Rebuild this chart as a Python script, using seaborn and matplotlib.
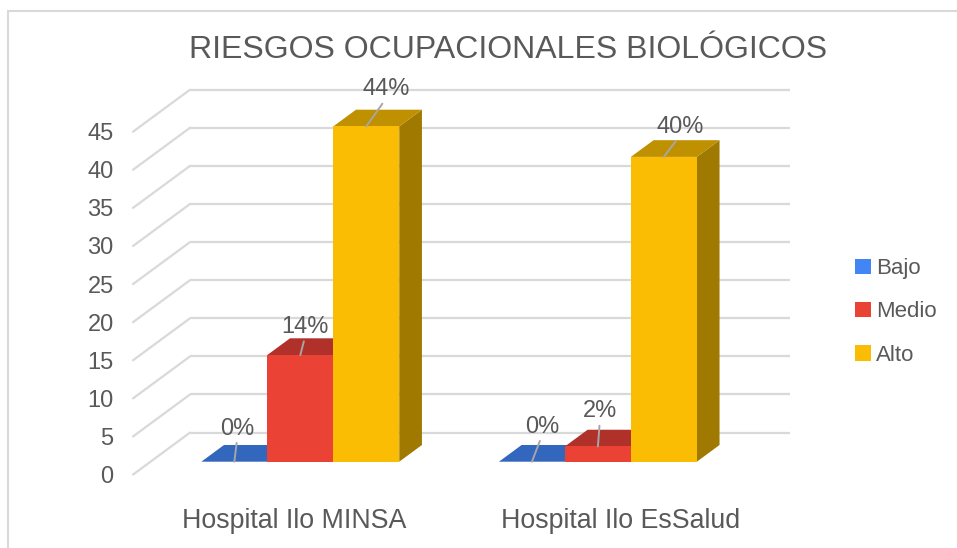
import numpy as np
import pandas as pd
import seaborn as sns
import matplotlib.pyplot as plt
from matplotlib.patches import Polygon
from matplotlib.lines import Line2D

# ---------------- data ----------------
hospitals = ["Hospital Ilo MINSA", "Hospital Ilo EsSalud"]
levels = ["Bajo", "Medio", "Alto"]
bajo = [0, 0]
medio = [14, 2]
alto = [44, 40]
y_ticks = [0, 5, 10, 15, 20, 25, 30, 35, 40, 45]
title = "RIESGOS OCUPACIONALES BIOLÓGICOS"

# ---------------- style ----------------
front_colors = {"Bajo": "#4285F4", "Medio": "#EA4335", "Alto": "#FBBC04"}
top_colors = {"Bajo": "#3366BD", "Medio": "#B0312A", "Alto": "#BF9000"}
side_colors = {"Bajo": "#2A55A0", "Medio": "#952820", "Alto": "#A07900"}
text_color = "#595959"
grid_color = "#D9D9D9"

sns.set_style("white")
plt.rcParams["font.family"] = ["Liberation Sans", "DejaVu Sans"]

W, H = 957, 548
fig = plt.figure(figsize=(W / 100, H / 100), dpi=100)

# pixel mapping of the bars' front plane
PX_X0, PX_PER_CAT = 300.3, 297.6     # pixel x of category 0, pixels per category
PX_Y0, PX_PER_UNIT = 461.7, 7.62     # pixel y (from top) of value 0, pixels per unit
L, R, T, B = 122, 800, 60, 490        # axes box in pixels
ax = fig.add_axes([L / W, 1 - B / H, (R - L) / W, (B - T) / H])
XLIM = ((L - PX_X0) / PX_PER_CAT, (R - PX_X0) / PX_PER_CAT)
YLIM = ((PX_Y0 - B) / PX_PER_UNIT, (PX_Y0 - T) / PX_PER_UNIT)

# oblique depth: full floor depth vector (pixels: +57 right, 42 up)
DX = 57 / PX_PER_CAT
DY = 42 / PX_PER_UNIT
D_FRONT, D_BACK = 0.307, 0.705        # bar front/back depth fractions
wall_dx, wall_dy = (1 - D_FRONT) * DX, (1 - D_FRONT) * DY
front_dx, front_dy = -D_FRONT * DX, -D_FRONT * DY
bar_dx, bar_dy = (D_BACK - D_FRONT) * DX, (D_BACK - D_FRONT) * DY
wall_x0 = (190 - PX_X0) / PX_PER_CAT
wall_x1 = (790 - PX_X0) / PX_PER_CAT

# ---------------- bars ----------------
df = pd.DataFrame({
    "hospital": hospitals * 3,
    "nivel": ["Bajo"] * 2 + ["Medio"] * 2 + ["Alto"] * 2,
    "valor": bajo + medio + alto,
})
sns.barplot(data=df, x="hospital", y="valor", hue="nivel", order=hospitals,
            hue_order=levels, palette=front_colors, width=0.665, saturation=1,
            linewidth=0, ax=ax)

# back wall and side wall gridlines
for v in y_ticks:
    ax.plot([wall_x0, wall_x1], [v + wall_dy, v + wall_dy], color=grid_color,
            lw=1.6, zorder=1, clip_on=False, solid_capstyle="butt")
    ax.plot([wall_x0 - DX, wall_x0], [v + wall_dy - DY, v + wall_dy],
            color=grid_color, lw=1.6, zorder=1, clip_on=False)

# 3D faces on top of each seaborn bar
label_offsets = {  # pixel offsets of label centres from the bar's front-top centre
    ("Hospital Ilo MINSA", "Bajo"): (3, 33), ("Hospital Ilo MINSA", "Medio"): (5, 28),
    ("Hospital Ilo MINSA", "Alto"): (20, 37), ("Hospital Ilo EsSalud", "Bajo"): (10, 35),
    ("Hospital Ilo EsSalud", "Medio"): (2, 35), ("Hospital Ilo EsSalud", "Alto"): (16, 30),
}
bars = []
for lvl, cont in zip(levels, ax.containers):
    for hosp, rect in zip(hospitals, cont.patches):
        bars.append((rect.get_x(), lvl, hosp, rect))
bars.sort(key=lambda b: b[0])
for i, (x, lvl, hosp, rect) in enumerate(bars):
    w = rect.get_width()
    h = rect.get_height()
    z = 2 + i * 0.01
    rect.set_zorder(z + 0.005)
    side = Polygon([(x + w, 0), (x + w + bar_dx, bar_dy), (x + w + bar_dx, h + bar_dy), (x + w, h)],
                   closed=True, facecolor=side_colors[lvl], edgecolor="none", zorder=z, clip_on=False)
    top = Polygon([(x, h), (x + bar_dx, h + bar_dy), (x + w + bar_dx, h + bar_dy), (x + w, h)],
                  closed=True, facecolor=top_colors[lvl], edgecolor="none", zorder=z + 0.002, clip_on=False)
    ax.add_patch(side)
    ax.add_patch(top)
    ox, oy = label_offsets[(hosp, lvl)]
    xc = x + w / 2
    ax.annotate(f"{h:.0f}%", xy=(xc, h), xytext=(ox, oy), textcoords="offset pixels",
                ha="center", va="center", fontsize=17, color=text_color, zorder=6,
                annotation_clip=False,
                arrowprops=dict(arrowstyle="-", color="#A6A6A6", lw=1.4,
                                shrinkA=0, shrinkB=0, relpos=(0.5, 0.1)))

# ---------------- axes text ----------------
ax.set_yticks([v + front_dy for v in y_ticks], labels=[str(v) for v in y_ticks])
ax.set_xticks([(293.8 - PX_X0) / PX_PER_CAT, (621 - PX_X0) / PX_PER_CAT], labels=hospitals)
ax.tick_params(axis="y", length=0, pad=6, labelsize=17, labelcolor=text_color)
ax.tick_params(axis="x", length=0, pad=13, labelsize=19.3, labelcolor=text_color)
ax.set_xlabel("")
ax.set_ylabel("")
ax.set_xlim(*XLIM)
ax.set_ylim(*YLIM)
for s in ax.spines.values():
    s.set_visible(False)
ax.set_facecolor("none")

fig.text(508 / W, 1 - 50 / H, title, ha="center", va="center", fontsize=23, color=text_color)

sns.move_legend(ax, loc="center left", bbox_to_anchor=(855 / W, 1 - 312 / H),
                bbox_transform=fig.transFigure, frameon=False, title=None,
                fontsize=16, handlelength=0.7, handleheight=0.7, handletextpad=0.25,
                labelspacing=1.0, borderpad=0, borderaxespad=0)
for t in ax.get_legend().get_texts():
    t.set_color(text_color)

# chart border (left and top edges visible)
fig.add_artist(Line2D([8 / W, 8 / W], [0, 1 - 11 / H], color=grid_color, lw=1.5))
fig.add_artist(Line2D([8 / W, 1], [1 - 11 / H, 1 - 11 / H], color=grid_color, lw=1.5))

fig.savefig("out.png", dpi=100)
